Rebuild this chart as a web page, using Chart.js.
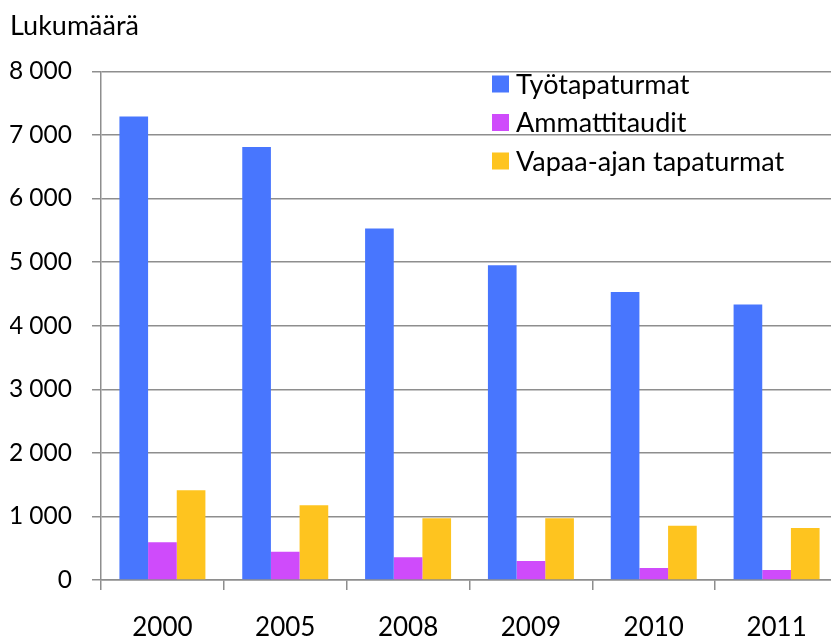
<!DOCTYPE html>
<html>
<head>
<meta charset="utf-8">
<script src="https://cdn.jsdelivr.net/npm/chart.js@4.4.1/dist/chart.umd.min.js"></script>
<style>
  html, body { margin: 0; padding: 0; background: #fff; overflow: hidden; }
  canvas { display: block; }
</style>
</head>
<body>
<canvas id="chart" width="840" height="636"></canvas>
<script>
// vuodet
const years = ['2000', '2005', '2008', '2009', '2010', '2011'];
// luvut kuvasta luettu
const tyotapaturmat = [7290, 6810, 5530, 4950, 4530, 4335];
const ammattitaudit = [592, 445, 356, 299, 189, 157];
const vapaaAjan = [1410, 1174, 970, 970, 854, 818];
const yTicks = [0, 1000, 2000, 3000, 4000, 5000, 6000, 7000, 8000];

const FONT = 'Lato';
const gridCol = '#8e8e8e';

function fmt(v) {
  return String(v).replace(/\B(?=(\d{3})+(?!\d))/g, ' ');
}

// oma selite kuvaajan sisään, pystysuunnassa
const innerLegend = {
  id: 'innerLegend',
  afterDatasetsDraw(chart) {
    const ctx = chart.ctx;
    const area = chart.chartArea;
    const x0 = area.right - 346;
    let y = 84;
    ctx.save();
    ctx.font = '27px ' + FONT;
    ctx.textBaseline = 'middle';
    ctx.textAlign = 'left';
    chart.data.datasets.forEach(ds => {
      ctx.fillStyle = ds.backgroundColor;
      ctx.fillRect(x0, y - 8.5, 17, 17);
      ctx.fillStyle = '#000';
      ctx.fillText(ds.label, x0 + 24, y + 1);
      y += 38.5;
    });
    ctx.restore();
  }
};

const ctx = document.getElementById('chart').getContext('2d');

const chart = new Chart(ctx, {
  type: 'bar',
  data: {
    labels: years,
    datasets: [
      { label: 'Työtapaturmat', data: tyotapaturmat, backgroundColor: '#4876FE' },
      { label: 'Ammattitaudit', data: ammattitaudit, backgroundColor: '#CF4BFB' },
      { label: 'Vapaa-ajan tapaturmat', data: vapaaAjan, backgroundColor: '#FEC41F' }
    ]
  },
  options: {
    responsive: false,
    animation: false,
    layout: { padding: { left: 10, right: 2, top: 0, bottom: 0 } },
    datasets: {
      bar: { barPercentage: 1, categoryPercentage: 0.7 }
    },
    plugins: {
      legend: { display: false },
      tooltip: { enabled: false },
      title: {
        display: true,
        text: 'Lukumäärä',
        align: 'start',
        color: '#000',
        font: { family: FONT, size: 27, weight: 'normal' },
        padding: { top: 10, bottom: 29 }
      }
    },
    scales: {
      x: {
        grid: {
          display: true,
          drawOnChartArea: false,
          drawTicks: true,
          tickLength: 10,
          color: gridCol,
          lineWidth: 1.5
        },
        border: { display: true, color: gridCol, width: 1.5 },
        ticks: {
          color: '#000',
          font: { family: FONT, size: 26 },
          padding: 22,
          maxRotation: 0
        },
        afterFit(scale) { scale.height = 56; }
      },
      y: {
        min: 0,
        max: 8000,
        afterBuildTicks(scale) {
          scale.ticks = yTicks.map(v => ({ value: v }));
        },
        grid: {
          color: gridCol,
          lineWidth: 1.5,
          drawTicks: true,
          tickLength: 9
        },
        border: { display: true, color: gridCol, width: 1.5 },
        ticks: {
          color: '#000',
          font: { family: FONT, size: 24.5 },
          padding: 20,
          callback: v => fmt(v)
        },
        afterFit(scale) { scale.width = 91; }
      }
    }
  },
  plugins: [innerLegend]
});
</script>
</body>
</html>
